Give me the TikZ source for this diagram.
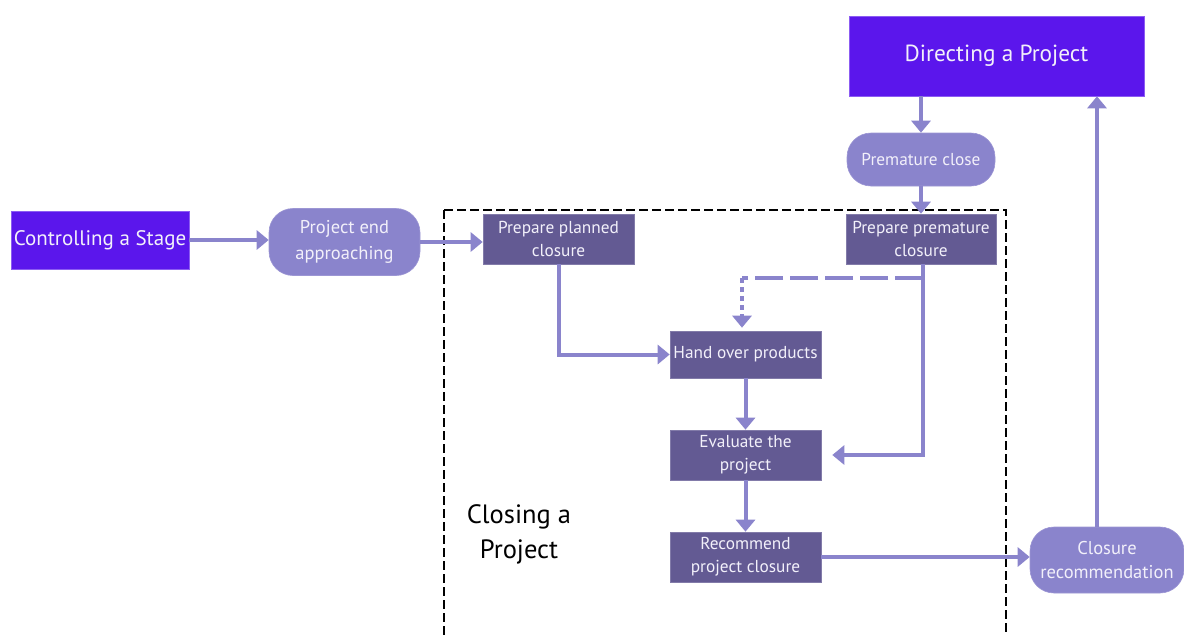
\documentclass[tikz,border=0pt]{standalone}
\usepackage{fontspec}
\setmainfont{PT Sans}
\usetikzlibrary{arrows.meta}
\definecolor{dirviolet}{HTML}{5B16EC}
\definecolor{lilac}{HTML}{8A84CC}
\definecolor{slate}{HTML}{635A93}
\definecolor{paletext}{HTML}{F2F0FA}
\begin{document}
\begin{tikzpicture}[x=1pt,y=-1pt,
  procbox/.style={fill=dirviolet, draw=dirviolet!70!white, line width=0.6pt, text=paletext, inner sep=0pt, align=center},
  eventbox/.style={fill=lilac, draw=lilac!85!white, line width=0.6pt, text=paletext, inner sep=0pt, align=center, rounded corners=24pt},
  actbox/.style={fill=slate, draw=slate!80!white, line width=0.6pt, text=paletext, inner sep=0pt, align=center, font=\fontsize{17.3}{23}\selectfont},
  conn/.style={draw=lilac, line width=4pt, -{Triangle[length=12pt,width=19pt]}},
  plainlink/.style={draw=lilac, line width=4pt},
]
\useasboundingbox (0,0) rectangle (1184,635);

% stage boundary
\draw[black, line width=2pt, dash pattern=on 9pt off 4pt] (444,210) -- (1006,210) -- (1006,640) (444,210) -- (444,640);
\node[font=\fontsize{26.5}{35}\selectfont, align=center, text=black] (lbl) at (519,534) {Closing a\\Project};

% processes
\node[procbox, minimum width=295pt, minimum height=80pt, font=\fontsize{23.3}{27}\selectfont] (dir) at (996.5,56) {Directing a Project};
\node[procbox, minimum width=178pt, minimum height=58pt, font=\fontsize{21}{25}\selectfont] (ctrl) at (100,240) {Controlling a Stage};

% events
\node[eventbox, minimum width=148pt, minimum height=53pt, font=\fontsize{17.3}{23}\selectfont] (pcl) at (921,159.5) {Premature close};
\node[eventbox, minimum width=151pt, minimum height=67pt, font=\fontsize{18.5}{26}\selectfont] (pea) at (344.5,242) {Project end\\approaching};
\node[eventbox, minimum width=154pt, minimum height=66pt, font=\fontsize{18.5}{24}\selectfont] (clr) at (1107,560) {Closure\\recommendation};

% activities
\node[actbox, minimum width=151pt, minimum height=50pt] (ppc) at (558.5,239) {Prepare planned\\closure};
\node[actbox, minimum width=150pt, minimum height=50pt] (ppm) at (921,239) {Prepare premature\\closure};
\node[actbox, minimum width=151pt, minimum height=47pt] (hop) at (745.5,354.5) {Hand over products};
\node[actbox, minimum width=151pt, minimum height=50pt] (evl) at (745.5,455) {Evaluate the\\project};
\node[actbox, minimum width=151pt, minimum height=50pt] (rec) at (745.5,557) {Recommend\\project closure};

% flows
\draw[conn] (ctrl.east) -- (ctrl.east -| pea.west);
\draw[conn] (pea.east) -- (pea.east -| ppc.west);
\draw[conn] (pcl.north |- dir.south) -- (pcl.north);
\draw[conn] (pcl.south) -- (pcl.south |- ppm.north);
\draw[conn] (ppc.south) |- (hop.west);
\draw[conn] (hop.south) -- (evl.north);
\draw[conn] (evl.south) -- (rec.north);
\draw[conn, shorten >=11pt] ([xshift=2pt]ppm.south) |- (evl.east);
\coordinate (fork) at ([xshift=2pt]ppm.south |- 0,278);
\coordinate (drop) at ([xshift=-3.5pt]hop.north |- fork);
\draw[plainlink, dash pattern=on 28pt off 7pt] (fork) -- (drop);
\draw[conn, dash pattern=on 5pt off 4pt, shorten >=3pt] (drop) -- (drop |- hop.north);
\draw[conn] (rec.east) -- (rec.east -| clr.west);
\draw[conn] ([xshift=-10pt]clr.north) -- ([xshift=-10pt]clr.north |- dir.south);
\end{tikzpicture}
\end{document}
